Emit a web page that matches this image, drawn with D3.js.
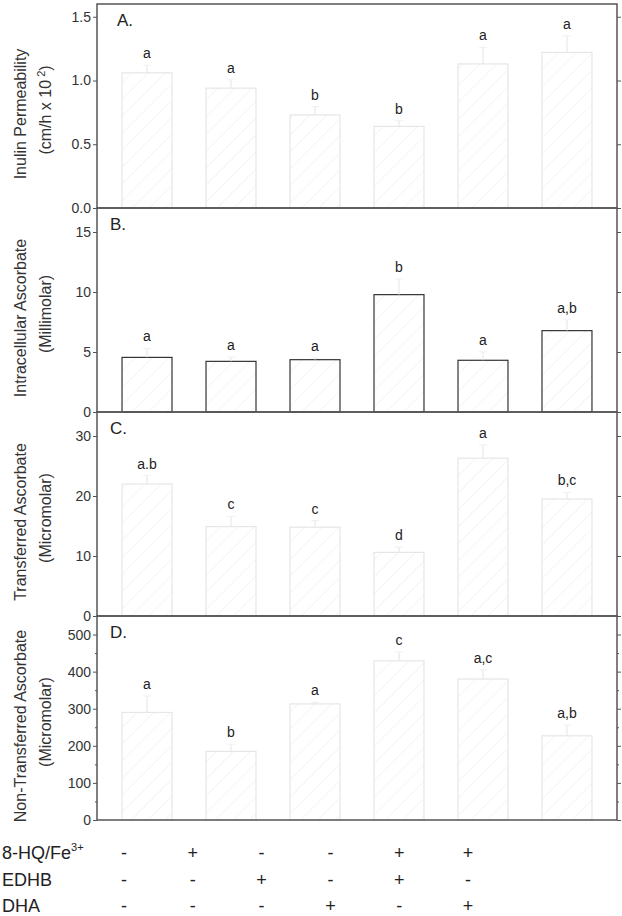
<!DOCTYPE html>
<html>
<head>
<meta charset="utf-8">
<script src="https://cdn.jsdelivr.net/npm/d3@7"></script>
<style>
  body { margin: 0; background: #fff; }
  svg { font-family: "Liberation Sans", Arial, sans-serif; }
</style>
</head>
<body>
<script>
// six treatment groups
var groups = ["g1", "g2", "g3", "g4", "g5", "g6"];

// A. inulin permeability
var permMeans = [1.06, 0.94, 0.73, 0.64, 1.13, 1.22];
var permErr = [0.06, 0.065, 0.065, 0.045, 0.13, 0.13];
var permLetters = ["a", "a", "b", "b", "a", "a"];

// B. intracellular ascorbate
var intraMeans = [4.55, 4.22, 4.36, 9.78, 4.31, 6.78];
var intraErr = [0.75, 0.35, 0.15, 1.3, 0.7, 0.9];
var intraLetters = ["a", "a", "a", "b", "a", "a,b"];

// C. transferred ascorbate
var transMeans = [22.0, 14.9, 14.8, 10.6, 26.3, 19.5];
var transErr = [1.4, 1.7, 1.1, 0.9, 2.2, 1.1];
var transLetters = ["a.b", "c", "c", "d", "a", "b,c"];

// D. non-transferred ascorbate
var nonMeans = [290, 185, 313, 429, 380, 227];
var nonErr = [44, 19, 5, 24, 25, 29];
var nonLetters = ["a", "b", "a", "c", "a,c", "a,b"];

// treatment table
var rowLabels = ["8-HQ/Fe", "EDHB", "DHA"];
var hqRow = ["-", "+", "-", "-", "+", "+"];
var edhbRow = ["-", "-", "+", "-", "+", "-"];
var dhaRow = ["-", "-", "-", "+", "-", "+"];

var W = 622, H = 916;
var left = 97, right = 617;

var svg = d3.select("body").append("svg")
    .attr("width", W)
    .attr("height", H);

var defs = svg.append("defs");
var pat = defs.append("pattern")
    .attr("id", "hatch")
    .attr("patternUnits", "userSpaceOnUse")
    .attr("width", 12)
    .attr("height", 12)
    .attr("patternTransform", "rotate(45)");
pat.append("line")
    .attr("x1", 0).attr("y1", 0)
    .attr("x2", 0).attr("y2", 12)
    .attr("stroke", "#efefef")
    .attr("stroke-width", 1.2);

var x = d3.scaleBand()
    .domain(groups)
    .range([left, right])
    .paddingInner(0.405)
    .paddingOuter(0.298);

var panels = [
  { top: 4, max: 1.6, ticks: [0, 0.5, 1.0, 1.5], fmt: d3.format(".1f"), minor: [],
    means: permMeans, err: permErr, letters: permLetters, tag: "A.", tagX: 117,
    title: ["Inulin Permeability", "(cm/h x 10"], sup: true, edge: "#e6e6e6" },
  { top: 208, max: 17, ticks: [0, 5, 10, 15], fmt: d3.format("d"), minor: [],
    means: intraMeans, err: intraErr, letters: intraLetters, tag: "B.", tagX: 110,
    title: ["Intracellular Ascorbate", "(Millimolar)"], sup: false, edge: "#333" },
  { top: 412, max: 34, ticks: [0, 10, 20, 30], fmt: d3.format("d"), minor: [],
    means: transMeans, err: transErr, letters: transLetters, tag: "C.", tagX: 110,
    title: ["Transferred Ascorbate", "(Micromolar)"], sup: false, edge: "#e6e6e6" },
  { top: 616, max: 550, ticks: [0, 100, 200, 300, 400, 500], fmt: d3.format("d"),
    minor: [50, 150, 250, 350, 450],
    means: nonMeans, err: nonErr, letters: nonLetters, tag: "D.", tagX: 110,
    title: ["Non-Transferred Ascorbate", "(Micromolar)"], sup: false, edge: "#e6e6e6" }
];

var ph = 204;

panels.forEach(function(p) {
  var y = d3.scaleLinear().domain([0, p.max]).range([p.top + ph, p.top]);
  var g = svg.append("g");

  // bars
  g.selectAll("rect.bar")
    .data(p.means)
    .enter().append("rect")
      .attr("class", "bar")
      .attr("x", function(d, i) { return x(groups[i]); })
      .attr("y", function(d) { return y(d); })
      .attr("width", x.bandwidth())
      .attr("height", function(d) { return y(0) - y(d); })
      .attr("fill", "url(#hatch)")
      .attr("stroke", p.edge)
      .attr("stroke-width", 1.2);

  // error bars
  g.selectAll("line.err")
    .data(p.means)
    .enter().append("line")
      .attr("class", "err")
      .attr("x1", function(d, i) { return x(groups[i]) + x.bandwidth() / 2; })
      .attr("x2", function(d, i) { return x(groups[i]) + x.bandwidth() / 2; })
      .attr("y1", function(d) { return y(d); })
      .attr("y2", function(d, i) { return y(d + p.err[i]); })
      .attr("stroke", "#e4e4e4")
      .attr("stroke-width", 1);
  g.selectAll("line.cap")
    .data(p.means)
    .enter().append("line")
      .attr("class", "cap")
      .attr("x1", function(d, i) { return x(groups[i]) + x.bandwidth() / 2 - 4; })
      .attr("x2", function(d, i) { return x(groups[i]) + x.bandwidth() / 2 + 4; })
      .attr("y1", function(d, i) { return y(d + p.err[i]); })
      .attr("y2", function(d, i) { return y(d + p.err[i]); })
      .attr("stroke", "#f0f0f0")
      .attr("stroke-width", 1);

  // significance letters
  g.selectAll("text.sig")
    .data(p.letters)
    .enter().append("text")
      .attr("class", "sig")
      .attr("x", function(d, i) { return x(groups[i]) + x.bandwidth() / 2; })
      .attr("y", function(d, i) { return y(p.means[i] + p.err[i]) - 7; })
      .attr("text-anchor", "middle")
      .attr("font-size", 14)
      .attr("fill", "#222")
      .text(function(d) { return d; });

  // axes
  var yl = g.append("g")
      .attr("transform", "translate(" + left + ",0)")
      .call(d3.axisLeft(y).tickValues(p.ticks).tickFormat(p.fmt).tickSize(4).tickPadding(2));
  var yr = g.append("g")
      .attr("transform", "translate(" + right + ",0)")
      .call(d3.axisLeft(y).tickValues(p.ticks).tickFormat("").tickSize(-4));
  [yl, yr].forEach(function(a) {
    a.select(".domain").remove();
    a.selectAll("line").attr("stroke", "#555");
    a.selectAll("text").attr("font-size", 14).attr("fill", "#333")
      .attr("font-family", "Liberation Sans, Arial, sans-serif");
  });
  if (p.minor.length) {
    g.append("g")
      .attr("transform", "translate(" + left + ",0)")
      .call(d3.axisLeft(y).tickValues(p.minor).tickFormat("").tickSize(2))
      .call(function(a) { a.select(".domain").remove(); a.selectAll("line").attr("stroke", "#555"); });
    g.append("g")
      .attr("transform", "translate(" + right + ",0)")
      .call(d3.axisLeft(y).tickValues(p.minor).tickFormat("").tickSize(-2))
      .call(function(a) { a.select(".domain").remove(); a.selectAll("line").attr("stroke", "#555"); });
  }

  // frame
  g.append("rect")
    .attr("x", left).attr("y", p.top)
    .attr("width", right - left).attr("height", ph)
    .attr("fill", "none")
    .attr("stroke", "#555")
    .attr("stroke-width", 1.5);

  // panel tag
  g.append("text")
    .attr("x", p.tagX).attr("y", p.top + 22)
    .attr("font-size", 17)
    .attr("fill", "#222")
    .text(p.tag);

  // axis title
  var cy = p.top + ph / 2 + 8;
  g.append("text")
    .attr("transform", "translate(26," + cy + ") rotate(-90)")
    .attr("text-anchor", "middle")
    .attr("font-size", 16)
    .attr("fill", "#333")
    .text(p.title[0]);
  var t2 = g.append("text")
    .attr("transform", "translate(51," + (cy - 4) + ") rotate(-90)")
    .attr("text-anchor", "middle")
    .attr("font-size", 16)
    .attr("fill", "#333");
  t2.append("tspan").text(p.title[1]);
  if (p.sup) {
    t2.append("tspan").attr("dy", -6).attr("font-size", 11).text(" 2");
    t2.append("tspan").attr("dy", 6).text(")");
  }
});

// treatment table
var tx = d3.scalePoint().domain(groups).range([124, 468]);
var rows = [hqRow, edhbRow, dhaRow];
var rowY = d3.scalePoint().domain(rowLabels).range([859, 912]);

rowLabels.forEach(function(lab, r) {
  var t = svg.append("text")
    .attr("x", 2).attr("y", rowY(lab))
    .attr("font-size", 18)
    .attr("fill", "#222");
  t.append("tspan").text(lab);
  if (r === 0) {
    t.append("tspan").attr("dy", -8).attr("font-size", 11).text("3+");
  }
  svg.selectAll("text.sign" + r)
    .data(rows[r])
    .enter().append("text")
      .attr("class", "sign" + r)
      .attr("x", function(d, i) { return tx(groups[i]); })
      .attr("y", rowY(lab))
      .attr("text-anchor", "middle")
      .attr("font-size", 18)
      .attr("fill", "#222")
      .text(function(d) { return d; });
});
</script>
</body>
</html>
